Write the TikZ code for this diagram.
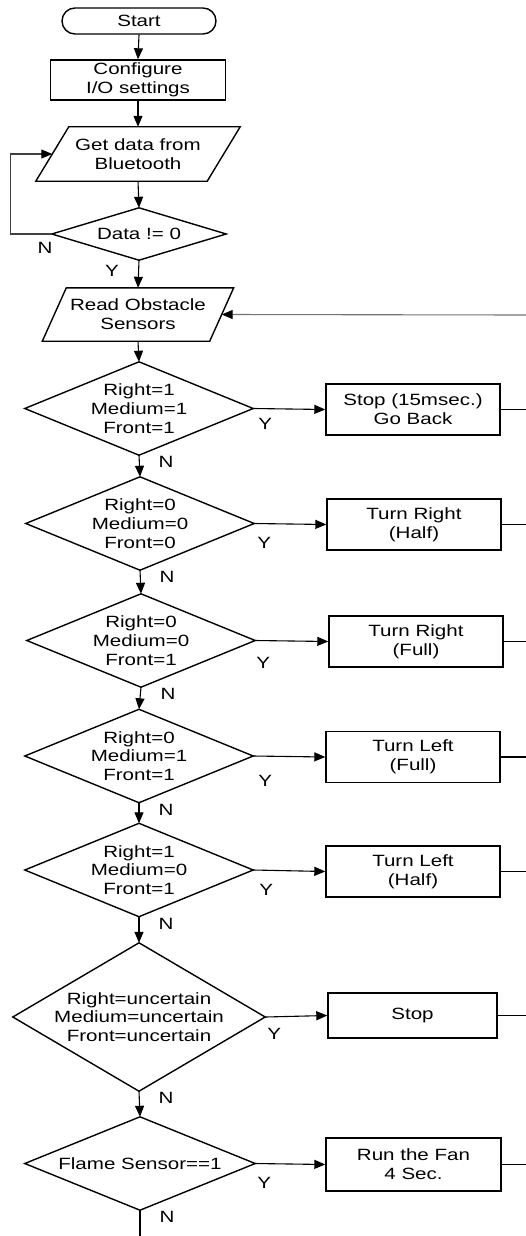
\documentclass[tikz,border=0pt]{standalone}
\usepackage{fontspec}
\setmainfont{Liberation Sans}[FakeStretch=1.26]
\usetikzlibrary{arrows.meta,calc}
\begin{document}
\begin{tikzpicture}[x=1pt,y=-1pt,
  every node/.style={font=\fontsize{16.3}{18.7}\selectfont, align=center},
  shapeline/.style={draw=black, line width=1.4pt, line join=miter},
  procbox/.style={rectangle, draw=black, line width=1.4pt, inner sep=0pt, minimum width=174pt, minimum height=51pt},
  terminal/.style={rectangle, draw=black, line width=1.4pt, rounded corners=13pt, inner sep=0pt},
  holder/.style={rectangle, inner sep=0pt},
  decide/.style={holder, minimum width=228pt, minimum height=93pt},
  conn/.style={draw=black, line width=1.1pt, -{Triangle[length=11pt,width=9pt,color=black]}},
  plainline/.style={draw=black, line width=1.1pt},
  lbl/.style={inner sep=0pt}
]
\useasboundingbox (0,0) rectangle (526,1236);

% left column
\node[terminal, minimum width=154pt, minimum height=26pt] (start) at (139,21) {Start};
\node[procbox, minimum width=175pt, minimum height=40pt] (cfg) at (138,80) {Configure\\I/O settings};
\node[holder, minimum width=171pt, minimum height=54pt] (gd) at (138,154) {Get data from\\Bluetooth};
\node[holder, minimum width=174pt, minimum height=52pt] (d0) at (139,234) {Data != 0};
\node[holder, minimum width=167pt, minimum height=53pt] (ro) at (138,314.5) {Read Obstacle\\Sensors};

\node[decide] (d1) at (139,408.5) {Right=1\\Medium=1\\Front=1};
\node[decide] (d2) at (140,523.5) {Right=0\\Medium=0\\Front=0};
\node[decide] (d3) at (141,640.5) {Right=0\\Medium=0\\Front=1};
\node[decide] (d4) at (139,756) {Right=0\\Medium=1\\Front=1};
\node[decide] (d5) at (139,870) {Right=1\\Medium=0\\Front=1};
\node[holder, minimum width=252pt, minimum height=148pt] (d6) at (139,1017) {Right=uncertain\\Medium=uncertain\\Front=uncertain};
\node[decide, minimum width=230pt] (d7) at (140,1163.5) {Flame Sensor==1};

% right column
\node[procbox] (b1) at (413,409.5) {Stop (15msec.)\\Go Back};
\node[procbox] (b2) at (414,524.5) {Turn Right\\(Half)};
\node[procbox] (b3) at (416,641.5) {Turn Right\\(Full)};
\node[procbox] (b4) at (413,757) {Turn Left\\(Full)};
\node[procbox] (b5) at (413,871.5) {Turn Left\\(Half)};
\node[procbox, minimum width=169pt, minimum height=45pt] (b6) at (412.5,1015.5) {Stop};
\node[procbox, minimum width=175pt, minimum height=53pt] (b7) at (413.5,1164.5) {Run the Fan\\4 Sec.};

% shape outlines
\draw[shapeline] ([xshift=16.5pt]gd.north west) -- ([xshift=16.5pt]gd.north east) -- ([xshift=-16.5pt]gd.south east) -- ([xshift=-16.5pt]gd.south west) -- cycle;
\draw[shapeline] ([xshift=12pt]ro.north west) -- ([xshift=12pt]ro.north east) -- ([xshift=-12pt]ro.south east) -- ([xshift=-12pt]ro.south west) -- cycle;
\foreach \n in {d0,d1,d2,d3,d4,d5,d6,d7}
  \draw[shapeline] (\n.north) -- (\n.east) -- (\n.south) -- (\n.west) -- cycle;

% vertical flow
\draw[conn] (start.south) -- (cfg.north);
\draw[conn] (cfg.south) -- (gd.north);
\draw[conn] (gd.south) -- (d0.north);
\draw[conn] (d0.south) -- (ro.north);
\draw[conn] (ro.south) -- (d1.north);
\draw[conn] (d1.south) -- (d2.north);
\draw[conn] (d2.south) -- (d3.north);
\draw[conn] (d3.south) -- (d4.north);
\draw[conn] (d4.south) -- (d5.north);
\draw[conn] (d5.south) -- (d6.north);
\draw[conn] (d6.south) -- (d7.north);
\coordinate (bottomend) at (140,1236);
\draw[plainline] (d7.south) -- (bottomend);

% loop back
\draw[conn, draw=black!75] (d0.west) -- ++(-41,0) |- (gd.west);

% yes branches
\foreach \i in {1,...,7}
  \draw[conn] (d\i.east) -- (b\i.west);
\foreach \i in {1,...,7}{
  \coordinate (r\i) at (526, 0 |- b\i.east);
  \draw[plainline] (b\i.east) -- (b\i.east -| r\i);
}
\coordinate (fb) at (526,315);
\draw[conn, draw=black!55] (fb) -- (ro.east);

% labels
\node[lbl] (n0) at (45,248) {N};
\node[lbl] (y0) at (112,271) {Y};
\foreach \i/\yx/\yy in {1/12/15,2/10/19,3/8/22,4/12/25,5/13/20,6/9/17,7/9/19}
  \node[lbl] (y\i) at ([shift={(\yx,\yy)}]d\i.east) {Y};
\foreach \i in {1,...,7}
  \node[lbl] (n\i) at ([shift={(27,7)}]d\i.south) {N};
\end{tikzpicture}
\end{document}
